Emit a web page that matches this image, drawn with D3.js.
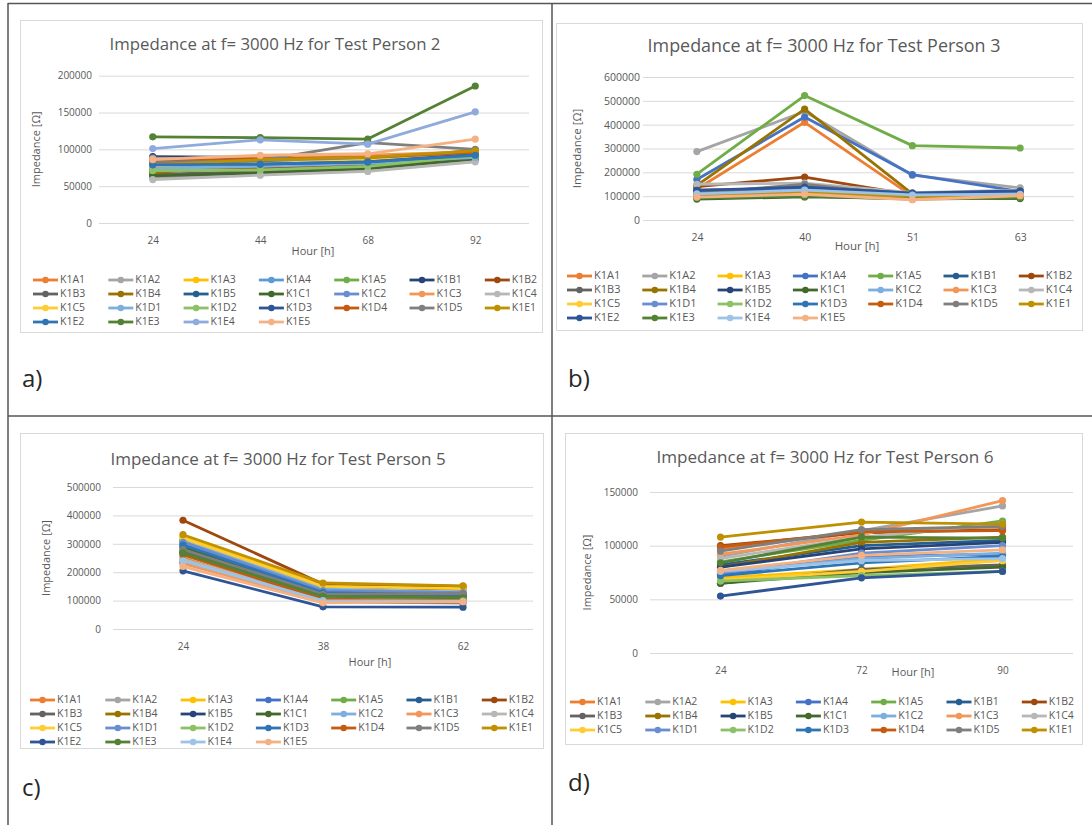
<!DOCTYPE html>
<html>
<head>
<meta charset="utf-8">
<script src="https://cdn.jsdelivr.net/npm/d3@7"></script>
<style>
  body { margin: 0; background: #fff; }
  text { font-family: "Open Sans", "Noto Sans", sans-serif; }
</style>
</head>
<body>
<svg id="fig" width="1092" height="825"></svg>
<script>
// ---- data ----
const seriesNames = ["K1A1","K1A2","K1A3","K1A4","K1A5","K1B1","K1B2","K1B3","K1B4","K1B5",
  "K1C1","K1C2","K1C3","K1C4","K1C5","K1D1","K1D2","K1D3","K1D4","K1D5",
  "K1E1","K1E2","K1E3","K1E4","K1E5"];

// test person 2
const hoursP2 = ["24","44","68","92"];
const ticksP2 = [0, 50000, 100000, 150000, 200000];
const impedanceP2 = [
  [85000, 88000, 90000, 95000], [62000, 67000, 72000, 86000], [80000, 84000, 88000, 93000],
  [76000, 79000, 82000, 90000], [72000, 75000, 79000, 90000], [90000, 89000, 88000, 96000],
  [70000, 74000, 80000, 92000], [66000, 70000, 76000, 88000], [68000, 80000, 86000, 99000],
  [83000, 82000, 84000, 94000], [64000, 68000, 74000, 87000], [88000, 86000, 86000, 95000],
  [87000, 90000, 92000, 97000], [59000, 65000, 70000, 83000], [78000, 81000, 85000, 92000],
  [74000, 77000, 81000, 89000], [71000, 72000, 77000, 91000], [81000, 80000, 83000, 93000],
  [84000, 87000, 89000, 96000], [82000, 85000, 109000, 100000], [79000, 86000, 89000, 98000],
  [79000, 80000, 83000, 92000], [117000, 116000, 114000, 186000], [101000, 113000, 107000, 151000],
  [86000, 92000, 94000, 114000]
];

// test person 3
const hoursP3 = ["24","40","51","63"];
const ticksP3 = [0, 100000, 200000, 300000, 400000, 500000, 600000];
const impedanceP3 = [
  [130000, 410000, 100000, 98000], [287000, 455000, 188000, 135000], [110000, 120000, 95000, 100000],
  [170000, 432000, 190000, 120000], [192000, 522000, 312000, 302000], [120000, 135000, 110000, 115000],
  [140000, 180000, 105000, 100000], [100000, 115000, 95000, 95000], [145000, 465000, 110000, 105000],
  [125000, 130000, 105000, 118000], [88000, 97000, 90000, 90000], [115000, 125000, 110000, 110000],
  [98000, 110000, 88000, 100000], [150000, 155000, 115000, 125000], [105000, 112000, 92000, 98000],
  [122000, 128000, 108000, 112000], [95000, 105000, 90000, 95000], [118000, 140000, 112000, 120000],
  [102000, 115000, 92000, 100000], [112000, 150000, 100000, 108000], [108000, 118000, 96000, 102000],
  [124000, 138000, 113000, 122000], [92000, 100000, 88000, 92000], [110000, 125000, 105000, 108000],
  [96000, 108000, 85000, 102000]
];

// test person 5
const hoursP5 = ["24","38","62"];
const ticksP5 = [0, 100000, 200000, 300000, 400000, 500000];
const impedanceP5 = [
  [250000, 100000, 98000], [265000, 110000, 110000], [325000, 155000, 145000],
  [300000, 130000, 125000], [285000, 120000, 118000], [270000, 115000, 115000],
  [383000, 158000, 150000], [275000, 125000, 120000], [310000, 150000, 140000],
  [235000, 95000, 92000], [290000, 118000, 112000], [315000, 140000, 130000],
  [230000, 98000, 95000], [245000, 108000, 105000], [320000, 150000, 142000],
  [305000, 135000, 128000], [260000, 112000, 108000], [295000, 128000, 120000],
  [262000, 105000, 100000], [280000, 122000, 125000], [332000, 162000, 152000],
  [205000, 78000, 77000], [268000, 115000, 110000], [240000, 100000, 98000],
  [220000, 92000, 96000]
];

// test person 6
const hoursP6 = ["24","72","90"];
const ticksP6 = [0, 50000, 100000, 150000];
const impedanceP6 = [
  [97000, 113000, 118000], [90000, 114000, 137000], [70000, 78000, 88000],
  [73000, 90000, 92000], [85000, 105000, 123000], [82000, 100000, 105000],
  [100000, 112000, 115000], [65000, 78000, 82000], [80000, 103000, 108000],
  [80000, 97000, 103000], [65000, 75000, 80000], [75000, 88000, 93000],
  [92000, 110000, 142000], [88000, 108000, 120000], [68000, 76000, 86000],
  [74000, 93000, 100000], [67000, 72000, 76000], [72000, 84000, 90000],
  [99000, 113000, 114000], [95000, 115000, 118000], [108000, 122000, 120000],
  [53000, 70000, 76000], [84000, 108000, 107000], [76000, 86000, 88000],
  [77000, 91000, 96000]
];

// ---- styles ----
const paletteA = ["#ED7D31","#A5A5A5","#FFC000","#5B9BD5","#70AD47","#264478","#9E480E","#636363",
  "#997300","#255E91","#43682B","#698ED0","#F1975A","#B7B7B7","#FFCD33","#7CAFDD","#8CC168",
  "#2F5597","#C55A11","#7F7F7F","#BF9000","#2E75B6","#548235","#8FAADC","#F4B183"];
const paletteB = ["#ED7D31","#A5A5A5","#FFC000","#4472C4","#70AD47","#255E91","#9E480E","#636363",
  "#997300","#264478","#43682B","#7CAFDD","#F1975A","#B7B7B7","#FFCD33","#698ED0","#8CC168",
  "#2E75B6","#C55A11","#7F7F7F","#BF9000","#2F5597","#548235","#9DC3E6","#F4B183"];

const panels = [
  { label: "a)", lx: 22, ly: 387, frame: [20, 20, 542, 332], title: "Impedance at f= 3000 Hz for Test Person 2",
    tx: 275, ty: 45, tfs: 16.8, fs: 10, left: 99, right: 529, top: 75.7, bottom: 223, ticks: ticksP2, hours: hoursP2,
    values: impedanceP2, palette: paletteA, xly: 241, hx: 313, hy: 252, ytx: 37, tickGap: 7,
    legX: 33, legY: 280, legN: 25 },
  { label: "b)", lx: 568, ly: 387, frame: [556, 23, 1082, 330], title: "Impedance at f= 3000 Hz for Test Person 3",
    tx: 824, ty: 47, tfs: 17.9, fs: 10.5, left: 643, right: 1074, top: 77, bottom: 220, ticks: ticksP3, hours: hoursP3,
    values: impedanceP3, palette: paletteB, xly: 238, hx: 857, hy: 247, ytx: 578, tickGap: 3,
    legX: 567, legY: 276, legN: 25 },
  { label: "c)", lx: 22, ly: 796, frame: [20, 433, 543, 748], title: "Impedance at f= 3000 Hz for Test Person 5",
    tx: 278, ty: 460, tfs: 17, fs: 10, left: 113, right: 533, top: 487, bottom: 629, ticks: ticksP5, hours: hoursP5,
    values: impedanceP5, palette: paletteB, xly: 647, hx: 370, hy: 663, ytx: 47, tickGap: 12,
    legX: 30, legY: 700, legN: 25 },
  { label: "d)", lx: 568, ly: 791, frame: [565, 433, 1082, 744], title: "Impedance at f= 3000 Hz for Test Person 6",
    tx: 825, ty: 458, tfs: 17.1, fs: 10, left: 650, right: 1073, top: 492, bottom: 653, ticks: ticksP6, hours: hoursP6,
    values: impedanceP6, palette: paletteB, xly: 671, hx: 913, hy: 673, ytx: 588, tickGap: 12,
    legX: 570, legY: 702, legN: 21 }
];

const svg = d3.select("#fig");
svg.append("rect").attr("width", 1092).attr("height", 825).attr("fill", "#fff");

panels.forEach(function(p) {
  const g = svg.append("g");
  const f = p.frame;
  g.append("rect")
    .attr("x", f[0] + 0.5).attr("y", f[1] + 0.5)
    .attr("width", f[2] - f[0]).attr("height", f[3] - f[1])
    .attr("fill", "#fff").attr("stroke", "#d9d9d9");

  g.append("text").attr("x", p.tx).attr("y", p.ty)
    .attr("text-anchor", "middle").attr("dominant-baseline", "middle")
    .attr("font-size", p.tfs).attr("fill", "#595959").text(p.title);

  const x = d3.scalePoint().domain(p.hours).range([p.left, p.right]).padding(0.5);
  const y = d3.scaleLinear().domain([0, d3.max(p.ticks)]).range([p.bottom, p.top]);

  // gridlines + y labels
  const ya = g.append("g").attr("transform", "translate(" + p.left + ",0)")
    .call(d3.axisLeft(y).tickValues(p.ticks).tickSize(-(p.right - p.left)).tickPadding(p.tickGap).tickFormat(d3.format("d")));
  ya.select(".domain").remove();
  ya.selectAll("line").attr("stroke", "#d9d9d9");
  ya.selectAll("text").attr("fill", "#595959").attr("font-size", p.fs)
    .attr("font-family", "\"Open Sans\", sans-serif");

  // x labels
  const xa = g.append("g").attr("transform", "translate(0," + p.bottom + ")")
    .call(d3.axisBottom(x).tickSize(0).tickPadding(0));
  xa.select(".domain").remove();
  xa.selectAll("text").attr("y", p.xly - p.bottom).attr("dy", "0.32em")
    .attr("fill", "#595959").attr("font-size", p.fs).attr("font-family", "\"Open Sans\", sans-serif");

  g.append("text").attr("x", p.hx).attr("y", p.hy)
    .attr("text-anchor", "middle").attr("dominant-baseline", "middle")
    .attr("font-size", p.fs + 1).attr("fill", "#595959").text("Hour [h]");

  g.append("text")
    .attr("transform", "translate(" + p.ytx + "," + ((p.top + p.bottom) / 2) + ") rotate(-90)")
    .attr("text-anchor", "middle").attr("dominant-baseline", "middle")
    .attr("font-size", p.fs + 1).attr("fill", "#595959").text("Impedance [Ω]");

  const line = d3.line().x(function(d, i) { return x(p.hours[i]); }).y(function(d) { return y(d); });

  p.values.forEach(function(vals, s) {
    const c = p.palette[s];
    g.append("path").datum(vals).attr("d", line)
      .attr("fill", "none").attr("stroke", c).attr("stroke-width", 2.8).attr("stroke-linejoin", "round");
    g.selectAll(null).data(vals).enter().append("circle")
      .attr("cx", function(d, i) { return x(p.hours[i]); })
      .attr("cy", function(d) { return y(d); })
      .attr("r", 3.6).attr("fill", c);
  });

  // legend, 7 per row
  const leg = g.append("g");
  seriesNames.slice(0, p.legN).forEach(function(name, i) {
    const lx = p.legX + (i % 7) * 75.3;
    const ly = p.legY + Math.floor(i / 7) * 14;
    const c = p.palette[i];
    leg.append("line").attr("x1", lx).attr("x2", lx + 25).attr("y1", ly).attr("y2", ly)
      .attr("stroke", c).attr("stroke-width", 2.8);
    leg.append("circle").attr("cx", lx + 12.5).attr("cy", ly).attr("r", 3.2).attr("fill", c);
    leg.append("text").attr("x", lx + 27).attr("y", ly).attr("dominant-baseline", "middle")
      .attr("font-size", p.fs + 0.5).attr("fill", "#595959").text(name);
  });

  svg.append("text").attr("x", p.lx).attr("y", p.ly)
    .attr("font-family", "\"Liberation Sans\", Arial, sans-serif")
    .attr("font-size", 24).attr("fill", "#262626").text(p.label);
});

// table borders
const border = svg.append("g").attr("stroke", "#555").attr("stroke-width", 1.5);
border.append("line").attr("x1", 8).attr("x2", 1092).attr("y1", 3.5).attr("y2", 3.5);
border.append("line").attr("x1", 8).attr("x2", 1092).attr("y1", 416).attr("y2", 416);
border.append("line").attr("x1", 8).attr("x2", 8).attr("y1", 3).attr("y2", 825);
border.append("line").attr("x1", 552).attr("x2", 552).attr("y1", 3).attr("y2", 825);
</script>
</body>
</html>
